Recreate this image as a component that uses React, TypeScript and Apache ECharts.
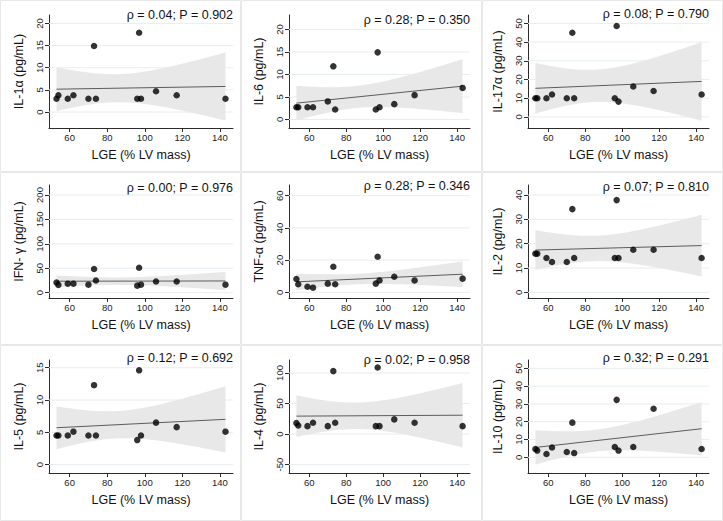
import { useEffect, useRef } from "react";
import * as echarts from "echarts";

// LGE (% of LV mass) for the 13 patients, shared by every panel
const LGE = [53, 54, 59, 62, 70, 73, 74, 96, 97, 98, 106, 117, 143];

// Cytokine concentrations (pg/mL), same patient order as LGE
const IL1A = [3.0, 3.8, 3.0, 3.8, 3.0, 14.9, 3.0, 3.0, 17.9, 3.0, 4.7, 3.8, 3.0];
const IL6 = [2.7, 2.7, 2.7, 2.7, 4.0, 11.8, 2.2, 2.2, 14.9, 2.7, 3.4, 5.4, 7.0];
const IL17A = [10, 10, 10, 12, 10, 45, 10, 10, 48.6, 8.2, 16.3, 13.9, 12];
const IFNG = [21, 16, 18.5, 18.5, 16.5, 48.5, 25, 14.5, 51, 16.5, 23, 23, 16.5];
const TNFA = [8.3, 5.0, 3.5, 2.9, 5.4, 15.9, 5.0, 5.4, 22.1, 7.4, 9.7, 7.4, 8.5];
const IL2 = [15.9, 15.9, 14.1, 12.5, 12.5, 34.2, 14.1, 14.1, 37.9, 14.1, 17.5, 17.5, 14.1];
const IL5 = [4.5, 4.5, 4.5, 5.1, 4.5, 12.3, 4.5, 3.8, 14.6, 4.5, 6.5, 5.8, 5.1];
const IL4 = [18, 14, 13, 18.5, 13, 103, 18.5, 13, 109, 13, 24, 18.5, 13];
const IL10 = [4.7, 3.8, 1.9, 5.5, 3.0, 19.5, 2.4, 5.8, 32.3, 3.8, 5.8, 27.3, 4.7];

const SERIES_VALUES = [IL1A, IL6, IL17A, IFNG, TNFA, IL2, IL5, IL4, IL10];

const Y_TITLES = [
  "IL-1α (pg/mL)",
  "IL-6 (pg/mL)",
  "IL-17α (pg/mL)",
  "IFN- γ (pg/mL)",
  "TNF-α (pg/mL)",
  "IL-2 (pg/mL)",
  "IL-5 (pg/mL)",
  "IL-4 (pg/mL)",
  "IL-10 (pg/mL)",
];

const STATS = [
  "ρ = 0.04; P = 0.902",
  "ρ = 0.28; P = 0.350",
  "ρ = 0.08; P = 0.790",
  "ρ = 0.00; P = 0.976",
  "ρ = 0.28; P = 0.346",
  "ρ = 0.07; P = 0.810",
  "ρ = 0.12; P = 0.692",
  "ρ = 0.02; P = 0.958",
  "ρ = 0.32; P = 0.291",
];

const Y_TICKS = [
  [0, 5, 10, 15, 20],
  [0, 5, 10, 15, 20],
  [0, 10, 20, 30, 40, 50],
  [0, 50, 100, 150, 200],
  [0, 20, 40, 60],
  [0, 10, 20, 30, 40],
  [0, 5, 10, 15],
  [-50, 0, 50, 100],
  [0, 10, 20, 30, 40, 50],
];

const Y_RANGES = [
  [-3.6, 21.9],
  [-1.9, 23.2],
  [-5.9, 54.5],
  [-10.8, 220.5],
  [-3.5, 66.6],
  [-2.3, 44.1],
  [-1.3, 16.2],
  [-63.7, 121.2],
  [-8.8, 54.7],
];

const X_TICKS = [60, 80, 100, 120, 140];
const X_TITLE = "LGE (% LV mass)";
const X_MIN = 49;
const X_MAX = 147;

// Student t 97.5th percentile for n - 2 = 11 degrees of freedom
const T_CRIT = 2.201;

// Panel geometry
const COL_LEFT = [49, 289, 528];
const COL_RIGHT = [233, 470, 709];
const ROW_TOP = [15, 185, 360];
const ROW_BOTTOM = [128, 298, 473];
const STAT_Y = [15, 20, 14, 188, 186, 187, 358, 360, 358];
const FRAME_COLS = [0, 241, 482, 723];
const FRAME_ROWS = [0, 172, 345, 521];

const FONT = "'Liberation Sans', Arial, Helvetica, sans-serif";
const AXIS_COLOR = "#2b2b2b";
const GRID_COLOR = "#e6edf1";
const BAND_COLOR = "#e8e8e8";
const FIT_COLOR = "#5c5c5c";

function linearFit(xs: number[], ys: number[]) {
  const n = xs.length;
  const mx = xs.reduce((a, b) => a + b, 0) / n;
  const my = ys.reduce((a, b) => a + b, 0) / n;
  let sxx = 0;
  let sxy = 0;
  for (let i = 0; i < n; i++) {
    sxx += (xs[i] - mx) ** 2;
    sxy += (xs[i] - mx) * (ys[i] - my);
  }
  const slope = sxy / sxx;
  const icpt = my - slope * mx;
  let sse = 0;
  for (let i = 0; i < n; i++) sse += (ys[i] - (icpt + slope * xs[i])) ** 2;
  const s = Math.sqrt(sse / (n - 2));
  const predict = (x: number) => icpt + slope * x;
  const halfWidth = (x: number) =>
    T_CRIT * s * Math.sqrt(1 / n + (x - mx) ** 2 / sxx);
  return { predict, halfWidth };
}

function buildOption() {
  const grid: any[] = [];
  const xAxis: any[] = [];
  const yAxis: any[] = [];
  const series: any[] = [];
  const graphic: any[] = [];

  const xLo = Math.min(...LGE);
  const xHi = Math.max(...LGE);
  const steps = 90;

  SERIES_VALUES.forEach((ys, i) => {
    const r = Math.floor(i / 3);
    const c = i % 3;
    const ticks = Y_TICKS[i];
    const fit = linearFit(LGE, ys);

    const upper: number[][] = [];
    const lower: number[][] = [];
    for (let k = 0; k <= steps; k++) {
      const x = xLo + ((xHi - xLo) * k) / steps;
      const y = fit.predict(x);
      const h = fit.halfWidth(x);
      upper.push([x, y + h]);
      lower.push([x, y - h]);
    }

    grid.push({
      left: COL_LEFT[c],
      top: ROW_TOP[r],
      width: COL_RIGHT[c] - COL_LEFT[c],
      height: ROW_BOTTOM[r] - ROW_TOP[r],
    });

    xAxis.push({
      gridIndex: i,
      type: "value",
      min: X_MIN,
      max: X_MAX,
      name: X_TITLE,
      nameLocation: "middle",
      nameGap: 20,
      nameTextStyle: { fontSize: 12.5, fontFamily: FONT, color: "#111" },
      axisLine: { show: true, onZero: false, lineStyle: { color: AXIS_COLOR, width: 1 } },
      axisTick: { show: true, length: 4, customValues: X_TICKS, lineStyle: { color: AXIS_COLOR } },
      axisLabel: { customValues: X_TICKS, fontSize: 9.5, margin: 4, fontFamily: FONT, color: "#222" },
      splitLine: { show: false },
    });

    yAxis.push({
      gridIndex: i,
      type: "value",
      min: Y_RANGES[i][0],
      max: Y_RANGES[i][1],
      name: Y_TITLES[i],
      nameLocation: "middle",
      nameGap: 24,
      nameTextStyle: { fontSize: 12.5, fontFamily: FONT, color: "#111" },
      axisLine: { show: true, onZero: false, lineStyle: { color: AXIS_COLOR, width: 1 } },
      axisTick: { show: true, length: 4, customValues: ticks, lineStyle: { color: AXIS_COLOR } },
      axisLabel: { customValues: ticks, rotate: 90, fontSize: 9.5, margin: 5, fontFamily: FONT, color: "#222" },
      splitLine: { show: false },
    });

    // Grid lines and the 95% confidence band of the linear fit
    series.push({
      type: "custom",
      xAxisIndex: i,
      yAxisIndex: i,
      silent: true,
      z: 1,
      data: [[100, 0]],
      renderItem: (_p: any, api: any) => {
        const children: any[] = [];
        ticks.forEach((t) => {
          const a = api.coord([X_MIN, t]);
          const b = api.coord([X_MAX, t]);
          children.push({
            type: "line",
            shape: { x1: a[0], y1: a[1], x2: b[0], y2: b[1] },
            style: { stroke: GRID_COLOR, lineWidth: 1 },
          });
        });
        const pts = upper
          .map((p) => api.coord(p))
          .concat(lower.slice().reverse().map((p) => api.coord(p)));
        children.push({
          type: "polygon",
          shape: { points: pts },
          style: { fill: BAND_COLOR },
        });
        return { type: "group", children };
      },
    });

    series.push({
      type: "line",
      xAxisIndex: i,
      yAxisIndex: i,
      silent: true,
      z: 2,
      showSymbol: false,
      data: [
        [xLo, fit.predict(xLo)],
        [xHi, fit.predict(xHi)],
      ],
      lineStyle: { color: FIT_COLOR, width: 1 },
    });

    series.push({
      type: "scatter",
      xAxisIndex: i,
      yAxisIndex: i,
      z: 3,
      symbolSize: 6.5,
      data: LGE.map((x, j) => [x, ys[j]]),
      itemStyle: { color: "#000" },
    });

    graphic.push({
      type: "text",
      x: COL_RIGHT[c],
      y: STAT_Y[i],
      silent: true,
      style: {
        text: STATS[i],
        align: "right",
        verticalAlign: "middle",
        fontSize: 12.5,
        fontFamily: FONT,
        fill: "#111",
      },
    });
  });

  // Light outline around every panel
  for (let r = 0; r < 3; r++) {
    for (let c = 0; c < 3; c++) {
      graphic.push({
        type: "rect",
        silent: true,
        z: -1,
        shape: {
          x: FRAME_COLS[c] + 0.5,
          y: FRAME_ROWS[r] + 0.5,
          width: FRAME_COLS[c + 1] - FRAME_COLS[c] - 1,
          height: FRAME_ROWS[r + 1] - FRAME_ROWS[r] - 1,
        },
        style: { fill: "none", stroke: "#e8e8e8", lineWidth: 1 },
      });
    }
  }

  return {
    animation: false,
    backgroundColor: "#ffffff",
    grid,
    xAxis,
    yAxis,
    series,
    graphic,
  };
}

export default function App() {
  const ref = useRef<HTMLDivElement>(null);

  useEffect(() => {
    if (!ref.current) return;
    const chart = echarts.init(ref.current, undefined, { renderer: "svg" });
    chart.setOption(buildOption() as any);
    return () => chart.dispose();
  }, []);

  return (
    <div
      ref={ref}
      style={{ position: "absolute", left: 0, top: 0, width: 723, height: 521, background: "#fff" }}
    />
  );
}
